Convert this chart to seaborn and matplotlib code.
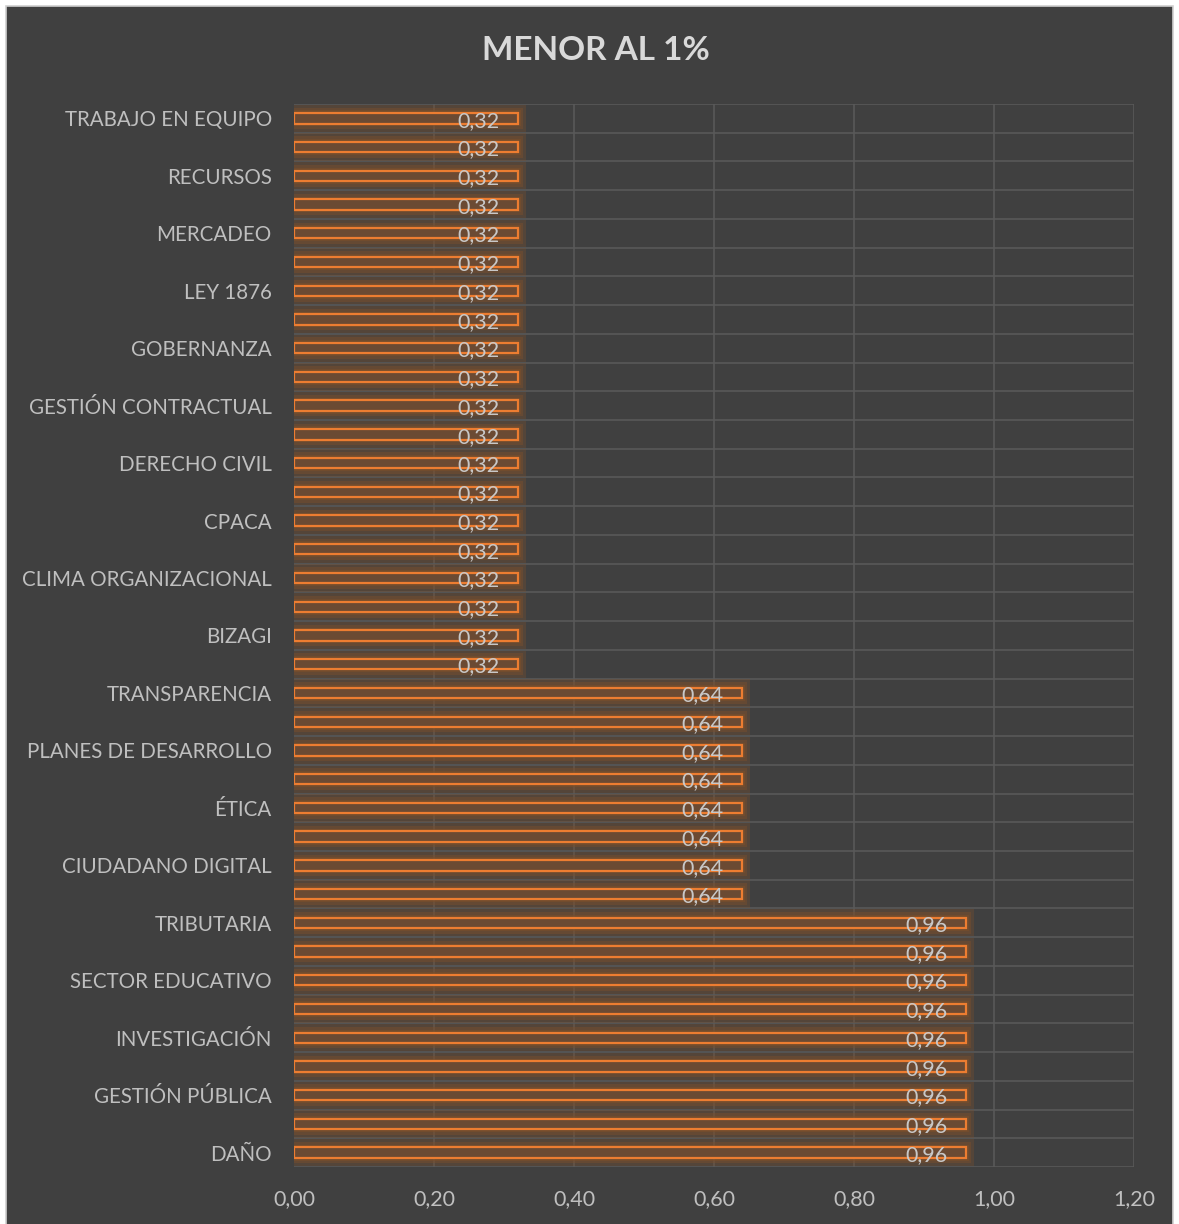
import matplotlib
matplotlib.use("Agg")
import matplotlib.pyplot as plt
import seaborn as sns
import numpy as np
import pandas as pd

# ---- data (top to bottom) ----
categories = [
    "TRABAJO EN EQUIPO", "", "RECURSOS", "", "MERCADEO", "", "LEY 1876", "",
    "GOBERNANZA", "", "GESTIÓN CONTRACTUAL", "", "DERECHO CIVIL", "", "CPACA", "",
    "CLIMA ORGANIZACIONAL", "", "BIZAGI", "",
    "TRANSPARENCIA", "", "PLANES DE DESARROLLO", "", "ÉTICA", "", "CIUDADANO DIGITAL", "",
    "TRIBUTARIA", "", "SECTOR EDUCATIVO", "", "INVESTIGACIÓN", "", "GESTIÓN PÚBLICA", "", "DAÑO",
]
values = [0.32] * 20 + [0.64] * 8 + [0.96] * 9
xticks = [0.0, 0.2, 0.4, 0.6, 0.8, 1.0, 1.2]
title = "MENOR AL 1%"

df = pd.DataFrame({"pos": np.arange(len(categories)), "cat": categories, "val": values})

sns.set_theme(style="dark")
plt.rcParams["font.family"] = ["Lato", "DejaVu Sans"]

W, H = 1179, 1224
fig = plt.figure(figsize=(W / 100, H / 100), dpi=100)
fig.patch.set_facecolor("white")
bg = "#404040"
fig.patches.append(plt.Rectangle((6 / W, -0.01), (W - 12) / W, (H - 6) / H + 0.01, transform=fig.transFigure,
                                 facecolor=bg, edgecolor="#d0d0d0", lw=1.2, zorder=-10))

ax = fig.add_axes([294 / W, 1 - 1167 / H, (1134 - 294) / W, (1167 - 104) / H])
ax.set_facecolor(bg)

# soft glow layers (wide -> narrow)
glow_specs = [(0.95, 0.018, 0.35), (0.75, 0.012, 0.45), (0.55, 0.007, 0.6)]
for wdt, ext, a in glow_specs:
    before = len(ax.patches)
    sns.barplot(data=df, x="val", y="pos", orient="h", order=list(df["pos"]), width=wdt,
                color="#7a4f2c", saturation=1, ax=ax, zorder=2, alpha=a)
    for p in ax.patches[before:]:
        p.set_x(p.get_x() - ext * 0.4)
        p.set_width(p.get_width() + ext)
        p.set_linewidth(0)

# main bar layer
sns.barplot(data=df, x="val", y="pos", orient="h", order=list(df["pos"]), width=0.36,
            color="#6b4a33", saturation=1, ax=ax, zorder=3, edgecolor="#ED7D31", linewidth=1.6)

for i, v in enumerate(values):
    ax.text(v - 0.027, i + 0.08, f"{v:.2f}".replace(".", ","), ha="right", va="center",
            color="#c8c8c8", fontsize=15.5, zorder=5)

ax.set_xlim(0, 1.2)
ax.set_ylim(len(categories) - 0.5, -0.5)
ax.set_xticks(xticks)
ax.set_xticklabels([f"{t:.2f}".replace(".", ",") for t in xticks], color="#bfbfbf", fontsize=15.5)
ax.set_yticks(np.arange(len(categories)))
ax.set_yticklabels(categories, color="#bfbfbf", fontsize=14.8)
ax.tick_params(axis="y", length=0, pad=16)
ax.tick_params(axis="x", length=0, pad=16)

# grid
for xv in xticks[1:]:
    ax.axvline(xv, color="#595959", lw=1.2, zorder=1)
for yb in np.arange(-0.5, len(categories), 1.0):
    ax.axhline(yb, color="#595959", lw=1.2, zorder=1)
ax.grid(False)
for s in ax.spines.values():
    s.set_visible(False)
ax.set_xlabel("")
ax.set_ylabel("")

fig.text(596 / W, 1 - 50 / H, title, ha="center", va="center", color="#d9d9d9",
         fontsize=24, fontweight="bold")

fig.savefig("out.png", dpi=100, facecolor=fig.get_facecolor())
